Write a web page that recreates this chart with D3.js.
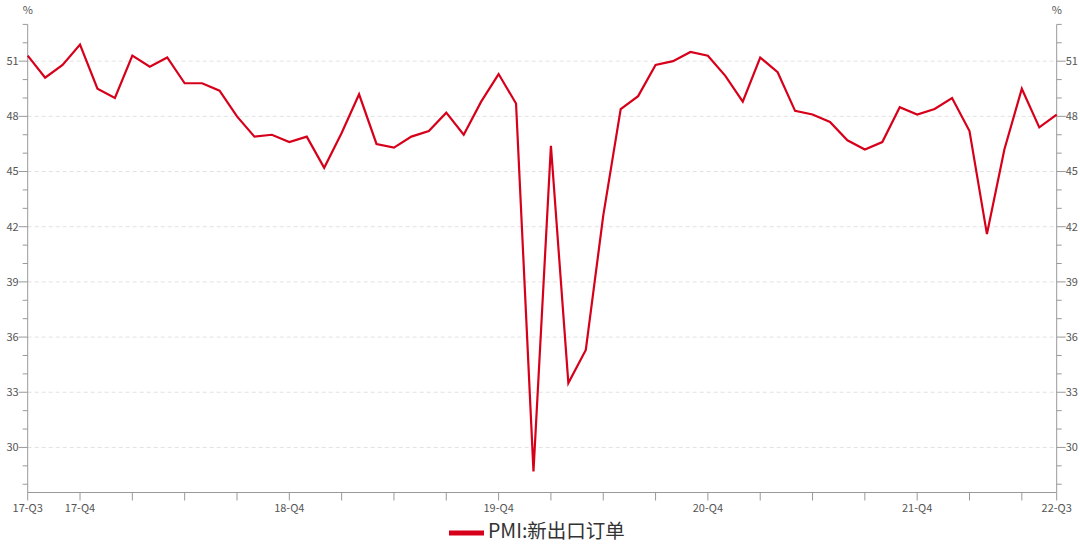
<!DOCTYPE html>
<html><head><meta charset="utf-8">
<script src="https://cdn.jsdelivr.net/npm/d3@7"></script>
<style>
body{margin:0;background:#fff;}
svg{display:block;font-family:"Noto Sans CJK SC","Noto Sans",sans-serif;}
</style></head>
<body><svg id="c" width="1080" height="545"></svg>
<script>
const months = [
 "2017-09","2017-10","2017-11","2017-12",
 "2018-01","2018-02","2018-03","2018-04","2018-05","2018-06","2018-07","2018-08","2018-09","2018-10","2018-11","2018-12",
 "2019-01","2019-02","2019-03","2019-04","2019-05","2019-06","2019-07","2019-08","2019-09","2019-10","2019-11","2019-12",
 "2020-01","2020-02","2020-03","2020-04","2020-05","2020-06","2020-07","2020-08","2020-09","2020-10","2020-11","2020-12",
 "2021-01","2021-02","2021-03","2021-04","2021-05","2021-06","2021-07","2021-08","2021-09","2021-10","2021-11","2021-12",
 "2022-01","2022-02","2022-03","2022-04","2022-05","2022-06","2022-07","2022-08"];
const exportOrders = [
 51.3,50.1,50.8,51.9,
 49.5,49.0,51.3,50.7,51.2,49.8,49.8,49.4,48.0,46.9,47.0,46.6,
 46.9,45.2,47.1,49.2,46.5,46.3,46.9,47.2,48.2,47.0,48.8,50.3,
 48.7,28.7,46.4,33.5,35.3,42.6,48.4,49.1,50.8,51.0,51.5,51.3,
 50.2,48.8,51.2,50.4,48.3,48.1,47.7,46.7,46.2,46.6,48.5,48.1,
 48.4,49.0,47.2,41.6,46.2,49.5,47.4,48.1];
const xLabelMonths = ["2017-09","2017-12","2018-12","2019-12","2020-12","2021-12","2022-08"];
const yTicks = [30,33,36,39,42,45,48,51];
const seriesName = "PMI:新出口订单";

function qLabel(m){const y=m.slice(2,4), mo=+m.slice(5,7);return y+"-Q"+Math.ceil(mo/3);}

const svg = d3.select("#c");
const L = 27.7, R = 1056.7, T = 24.4, B = 492.5;
const x = d3.scalePoint().domain(months).range([L,R]);
const y = d3.scaleLinear().domain([27.55,53]).range([B,T]);
const red = "#d7001b";
const axisCol = "#999";
const txtCol = "#555";

// grid
svg.append("g").selectAll("line").data(yTicks).join("line")
 .attr("x1",L).attr("x2",R).attr("y1",d=>y(d)).attr("y2",d=>y(d))
 .attr("stroke","#e2e2e2").attr("stroke-dasharray","4,3");

const minor = d3.range(28,54,1);
function yAxis(side){
  const g = svg.append("g");
  const X = side==="left"?L:R, s = side==="left"?-1:1;
  g.append("line").attr("x1",X).attr("x2",X).attr("y1",T).attr("y2",B).attr("stroke",axisCol);
  g.selectAll(".mn").data(minor.filter(v=>!yTicks.includes(v))).join("line")
   .attr("x1",X).attr("x2",X+s*5).attr("y1",d=>y(d)).attr("y2",d=>y(d)).attr("stroke",axisCol);
  g.selectAll(".mj").data(yTicks).join("line")
   .attr("x1",X).attr("x2",X+s*9).attr("y1",d=>y(d)).attr("y2",d=>y(d)).attr("stroke",axisCol);
  g.selectAll("text").data(yTicks).join("text")
   .attr("x",X+s*9).attr("y",d=>y(d)).attr("dy","0.35em")
   .attr("text-anchor",side==="left"?"end":"start")
   .attr("font-size",11).attr("fill",txtCol).text(d=>d);
  g.append("text").attr("x",X).attr("y",14).attr("text-anchor","middle")
   .attr("font-size",11).attr("fill",txtCol).text("%");
}
yAxis("left"); yAxis("right");

// x axis
const xa = svg.append("g");
xa.append("line").attr("x1",L).attr("x2",R).attr("y1",B).attr("y2",B).attr("stroke",axisCol);
const tickMonths = months.filter((m,i)=>i%3===0 || i===months.length-1);
xa.selectAll(".t").data(tickMonths).join("line")
 .attr("x1",d=>x(d)).attr("x2",d=>x(d)).attr("y1",B).attr("y2",B+8).attr("stroke",axisCol);
xa.selectAll("text").data(xLabelMonths).join("text")
 .attr("x",d=>x(d)).attr("y",B+16).attr("dy","0.35em").attr("text-anchor","middle")
 .attr("font-size",11).attr("fill",txtCol).text(d=>qLabel(d));

// line
svg.append("path").datum(exportOrders.map((v,i)=>[months[i],v]))
 .attr("fill","none").attr("stroke",red).attr("stroke-width",2.2).attr("stroke-linejoin","miter")
 .attr("d",d3.line().x(d=>x(d[0])).y(d=>y(d[1])));

// legend
const lg = svg.append("g");
lg.append("line").attr("x1",449).attr("x2",484).attr("y1",533).attr("y2",533).attr("stroke",red).attr("stroke-width",5);
lg.append("text").attr("x",488).attr("y",531).attr("dy","0.35em").attr("font-size",19.5).attr("fill","#333").text(seriesName);
</script></body></html>
